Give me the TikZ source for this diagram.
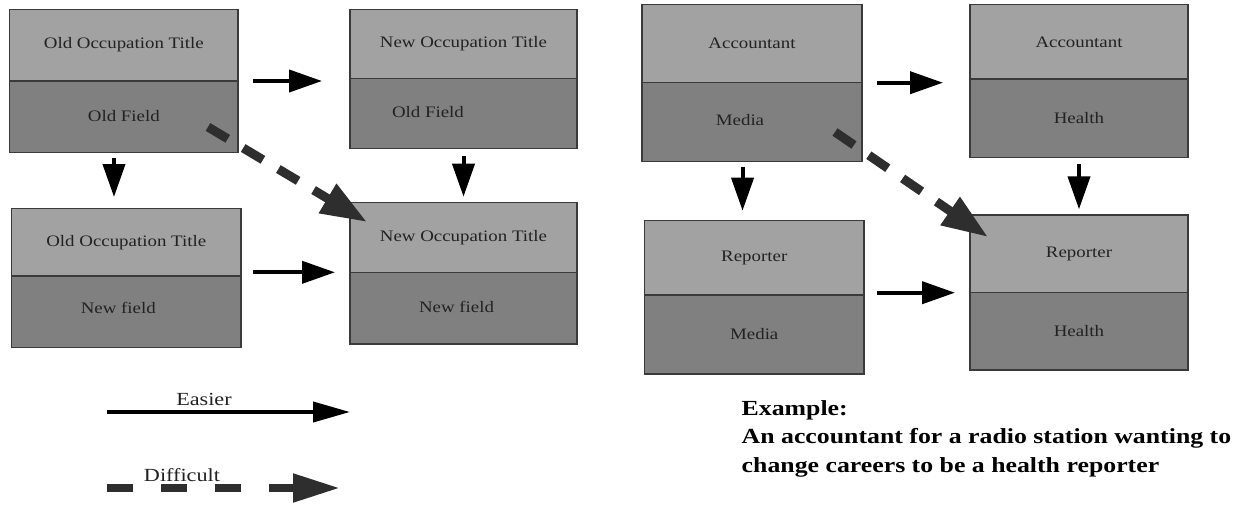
\documentclass[tikz,border=0pt]{standalone}
\usepackage{fontspec}
\setmainfont{Liberation Serif}
\newfontfamily\boxfont[FakeStretch=1.18]{Liberation Serif}
\newfontfamily\lgfont[FakeStretch=1.2]{Liberation Serif}
\newfontfamily\exfont[FakeStretch=1.2]{Liberation Serif}
\usetikzlibrary{arrows.meta,calc}
\definecolor{topc}{HTML}{A2A2A2}
\definecolor{botc}{HTML}{808080}
\definecolor{edgec}{HTML}{3A3A3A}
\definecolor{txt}{HTML}{222222}
\definecolor{dashc}{HTML}{2E2E2E}
\begin{document}
\begin{tikzpicture}[x=1pt,y=-1pt,
  part/.style={draw=edgec, line width=1.3pt, anchor=north west, inner sep=0pt, outer sep=0pt,
    text=txt, font=\boxfont\fontsize{16}{19}\selectfont},
  upper/.style={part, fill=topc},
  lower/.style={part, fill=botc},
  easy/.style={line width=4pt, -{Triangle[length=33pt,width=22pt]}},
  hard/.style={draw=dashc, line width=9pt, dash pattern=on 23pt off 18pt,
    -{Triangle[length=46pt,width=32pt]}},
  lbl/.style={text=txt, font=\lgfont\fontsize{18.5}{22}\selectfont, inner sep=0pt},
  extext/.style={anchor=base west, inner sep=0pt, text=black, font=\exfont\bfseries\fontsize{21.5}{26}\selectfont}
]
\useasboundingbox (0,0) rectangle (1236,506);
\fill[white] (0,0) rectangle (1236,506);

% left panel
\node[upper, minimum width=228.4pt, minimum height=71.7pt] (aT) at (9.6,9.3) {Old Occupation Title};
\node[lower, minimum width=228.4pt, minimum height=71.7pt] (aB) at (9.6,81) {\raisebox{2pt}{Old Field}};
\node[upper, minimum width=227pt, minimum height=69pt] (bT) at (350,9.3) {New Occupation Title};
\node[lower, minimum width=227pt, minimum height=70pt] (bB) at (350,78.3) {\raisebox{2pt}{Old Field}\hspace*{71pt}};
\node[upper, minimum width=229.5pt, minimum height=67.7pt] (cT) at (11.5,208.3) {Old Occupation Title};
\node[lower, minimum width=229.5pt, minimum height=71.7pt] (cB) at (11.5,276) {\raisebox{7pt}{New field}\hspace*{16pt}};
\node[upper, minimum width=227pt, minimum height=70pt] (dT) at (350,202.3) {New Occupation Title};
\node[lower, minimum width=227pt, minimum height=71.7pt] (dB) at (350,272.3) {\raisebox{3pt}{New field}\hspace*{14pt}};

% right panel
\node[upper, minimum width=220pt, minimum height=78pt] (eT) at (642,4.7) {Accountant};
\node[lower, minimum width=220pt, minimum height=79pt] (eB) at (642,82.7) {\raisebox{4pt}{Media}\hspace*{24pt}};
\node[upper, minimum width=218pt, minimum height=74.3pt] (fT) at (970,4.7) {Accountant};
\node[lower, minimum width=218pt, minimum height=78.3pt] (fB) at (970,79) {Health};
\node[upper, minimum width=219.5pt, minimum height=74.3pt] (gT) at (644.5,220.7) {Reporter};
\node[lower, minimum width=219.5pt, minimum height=79pt] (gB) at (644.5,295) {Media};
\node[upper, minimum width=218pt, minimum height=77.7pt] (hT) at (970,215) {Reporter};
\node[lower, minimum width=218pt, minimum height=77.3pt] (hB) at (970,292.7) {Health};

% connectors left
\draw[easy, shorten <=15pt, shorten >=28pt] (aT.south east) -- (aT.south east -| bT.west);
\draw[easy, shorten <=12pt, shorten >=15pt] (dT.south west -| cT.east) -- (dT.south west);
\coordinate (acs) at ($(aB.south west)!0.457!(aB.south east)$);
\draw[easy, shorten <=5.3pt, shorten >=11.3pt] (acs) -- (acs |- cT.north);
\draw[easy, shorten <=7.7pt, shorten >=5.6pt] (bB.south) -- (bB.south |- dT.north);
\draw[hard] ($(aB.south east)+(-30,-25.7)$) -- ($(dT.north west)+(17,19.7)$);

% connectors right
\draw[easy, shorten <=15pt, shorten >=27pt] (eT.south east) -- (eT.south east -| fT.west);
\draw[easy, shorten <=13pt, shorten >=15pt] (hT.south west -| gT.east) -- (hT.south west);
\coordinate (egs) at ($(eB.south west)!0.457!(eB.south east)$);
\draw[easy, shorten <=5pt, shorten >=10pt] (egs) -- (egs |- gT.north);
\draw[easy, shorten <=7pt, shorten >=5.7pt] (fB.south) -- (fB.south |- hT.north);
\draw[hard] ($(eB.south east)+(-27,-29.7)$) -- ($(hT.north west)+(18,22)$);

% legend
\coordinate (ea1) at (107,412);
\coordinate (ea2) at (350,412);
\draw[line width=4pt, -{Triangle[length=37pt,width=20pt]}] (ea1) -- (ea2);
\node[lbl] (eal) at (204,399) {Easier};
\coordinate (di1) at (107,488);
\coordinate (di2) at (340,488);
\draw[draw=dashc, line width=8pt, dash pattern=on 26pt off 28pt, -{Triangle[length=47pt,width=27pt]}] (di1) -- (di2);
\node[lbl] (dil) at (182,475) {Difficult};

% example
\node[extext] (ex1) at (741.5,415) {Example:};
\node[extext] (ex2) at (741.5,443) {An accountant for a radio station wanting to};
\node[extext] (ex3) at (741.5,472) {change careers to be a health reporter};
\end{tikzpicture}
\end{document}
